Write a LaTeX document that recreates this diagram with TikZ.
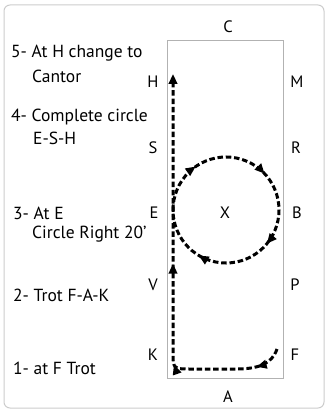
\documentclass[tikz,border=0pt]{standalone}
\usepackage{fontspec}
\setmainfont{PT Sans}
\usetikzlibrary{arrows.meta,decorations.markings}
\begin{document}
\begin{tikzpicture}[x=1pt,y=-1pt,
  lbl/.style={font=\fontsize{16.5}{18}\selectfont, inner sep=0pt},
  txt/.style={font=\fontsize{17.5}{20}\selectfont, inner sep=0pt, anchor=west},
  route/.style={line width=3pt, dash pattern=on 5.5pt off 2.8pt},
  tip/.style={-{Triangle[length=10pt,width=8.5pt]}}
]
\useasboundingbox (0,0) rectangle (327,411);
\draw[gray!40, line width=1pt, rounded corners=6pt] (4,5) rectangle (324,408);
\draw[gray!60, line width=0.8pt] (167,40) rectangle (283,378);
% letters
\node[lbl] (C) at (228,27) {C};
\node[lbl] (H) at (153,82) {H};
\node[lbl] (M) at (297,82) {M};
\node[lbl] (S) at (153,148) {S};
\node[lbl] (R) at (296,148) {R};
\node[lbl] (E) at (154,213) {E};
\node[lbl] (X) at (225,213) {X};
\node[lbl] (B) at (297,213) {B};
\node[lbl] (V) at (153,285) {V};
\node[lbl] (P) at (295,285) {P};
\node[lbl] (K) at (153,355) {K};
\node[lbl] (F) at (295,355) {F};
\node[lbl] (A) at (228,397) {A};
% instructions
\node[txt] (t5a) at (11,53) {5- At H change to};
\node[txt] (t5b) at (32,76) {Cantor};
\node[txt] (t4a) at (11,117) {4- Complete circle};
\node[txt] (t4b) at (33,138) {E-S-H};
\node[txt] (t3a) at (13,213) {3- At E};
\node[txt] (t3b) at (32,234) {Circle Right 20’};
\node[txt] (t2) at (13,295) {2- Trot F-A-K};
\node[txt] (t1) at (13,368) {1- at F Trot};
% route
\coordinate (start) at (277,349);
\coordinate (endH) at (173,74);
\draw[route, tip,
  postaction={decorate,decoration={markings,
    mark=at position 0.07 with {\arrow{Triangle[length=10pt,width=8.5pt]}},
    mark=at position 0.28 with {\arrow{Triangle[length=10pt,width=8.5pt]}},
    mark=at position 0.53 with {\arrow{Triangle[length=10pt,width=8.5pt]}}}}]
  (start) .. controls (272,364) and (258,369) .. (236,369) -- (192,369)
  .. controls (173,369) .. (173,352) -- (endH);
\coordinate (cE) at (173,210);
\draw[route,
  postaction={decorate,decoration={markings,
    mark=at position 0.153 with {\arrow{Triangle[length=10pt,width=8.5pt]}},
    mark=at position 0.38 with {\arrow{Triangle[length=10pt,width=8.5pt]}},
    mark=at position 0.61 with {\arrow{Triangle[length=10pt,width=8.5pt]}},
    mark=at position 0.836 with {\arrow{Triangle[length=10pt,width=8.5pt]}}}}]
  (cE) arc[start angle=180, end angle=540, radius=53];
\end{tikzpicture}
\end{document}
